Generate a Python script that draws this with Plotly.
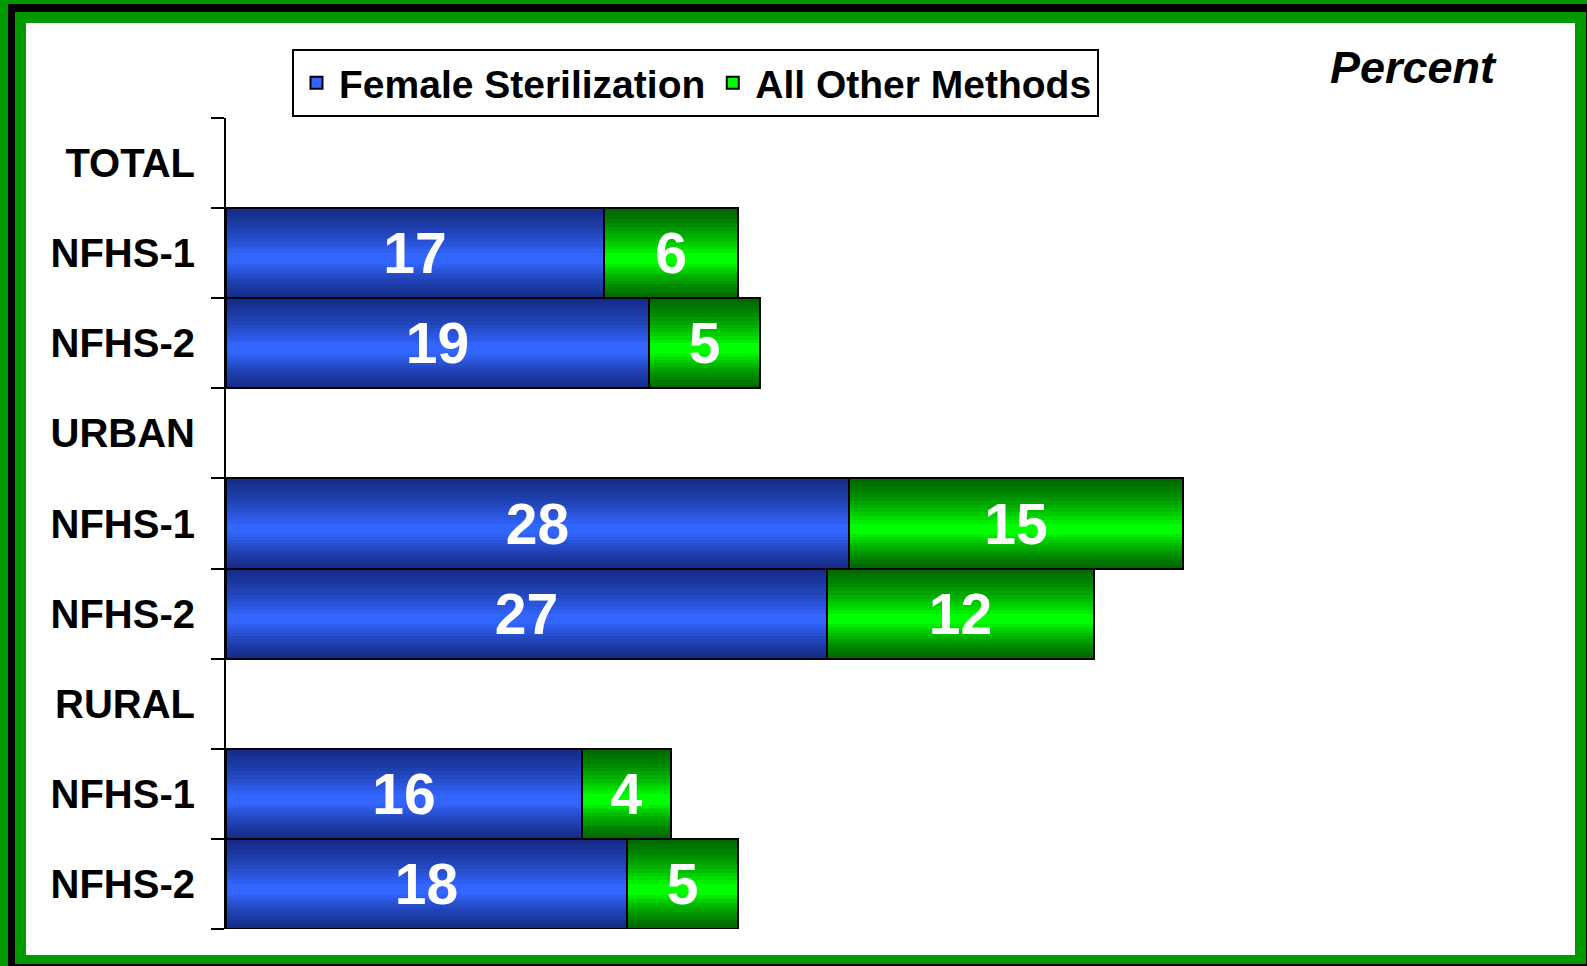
import plotly.graph_objects as go

# ---- data ----
rows = ["TOTAL", "TOTAL_1", "TOTAL_2", "URBAN", "URBAN_1", "URBAN_2", "RURAL", "RURAL_1", "RURAL_2"]
row_labels = ["TOTAL", "NFHS-1", "NFHS-2", "URBAN", "NFHS-1", "NFHS-2", "RURAL", "NFHS-1", "NFHS-2"]
female_sterilization = [None, 17, 19, None, 28, 27, None, 16, 18]
all_other_methods = [None, 6, 5, None, 15, 12, None, 4, 5]
series_names = ["Female Sterilization", "All Other Methods"]

# ---- layout geometry ----
W, H = 1587, 966
L, R, T, B = 226, 26, 118, 37
PW, PH = W - L - R, H - T - B


def px(x):
    return (x - L) / PW


def py(y):
    return (H - B - y) / PH


FONT = "Liberation Sans, Arial, sans-serif"

fig = go.Figure()

green_base = [f if f is not None else 0 for f in female_sterilization]

series = [
    dict(name=series_names[0], x=female_sterilization, base=[0] * len(rows),
         color="#3366FF", shade="rgba(0,0,30,0.06)"),
    dict(name=series_names[1], x=all_other_methods, base=green_base,
         color="#00FF00", shade="rgba(0,20,0,0.075)"),
]

N_STRIPES = 12
fractions = [(N_STRIPES - k) / N_STRIPES for k in range(N_STRIPES)]
TOP_SPAN, BOT_SPAN = 0.5, 0.38

for s in series:
    # base bar (bright centre colour, black outline)
    fig.add_trace(go.Bar(
        orientation="h", y=rows, x=s["x"], base=s["base"], name=s["name"],
        marker=dict(color=s["color"], line=dict(color="black", width=2)),
        width=1, hoverinfo="skip", showlegend=True,
    ))
    # shading stripes to imitate the vertical gradient
    for f in fractions:
        wt = TOP_SPAN * f
        wb = BOT_SPAN * f
        fig.add_trace(go.Bar(
            orientation="h", y=rows, x=s["x"], base=s["base"],
            marker=dict(color=s["shade"], line=dict(width=0)),
            width=wt, offset=-0.5, hoverinfo="skip", showlegend=False,
        ))
        fig.add_trace(go.Bar(
            orientation="h", y=rows, x=s["x"], base=s["base"],
            marker=dict(color=s["shade"], line=dict(width=0)),
            width=wb, offset=0.5 - wb, hoverinfo="skip", showlegend=False,
        ))

# value labels
for s in series:
    fig.add_trace(go.Bar(
        orientation="h", y=rows, x=s["x"], base=s["base"],
        marker=dict(color="rgba(0,0,0,0)", line=dict(width=0)),
        width=1, showlegend=False, hoverinfo="skip",
        text=[str(v) if v is not None else "" for v in s["x"]],
        textposition="inside", insidetextanchor="middle", constraintext="none",
        insidetextfont=dict(family=FONT, size=57, color="white", weight="bold"),
    ))

shapes = [
    dict(type="rect", xref="paper", yref="paper", x0=px(8), x1=px(1600), y0=py(4), y1=py(990),
         fillcolor="black", line=dict(width=0), layer="below"),
    dict(type="rect", xref="paper", yref="paper", x0=px(15), x1=px(1586), y0=py(12), y1=py(964),
         fillcolor="#009900", line=dict(width=0), layer="below"),
    dict(type="rect", xref="paper", yref="paper", x0=px(26), x1=px(1575), y0=py(23), y1=py(955),
         fillcolor="white", line=dict(width=0), layer="below"),
]

fig.update_layout(
    width=W, height=H,
    margin=dict(l=L, r=R, t=T, b=B, autoexpand=False),
    paper_bgcolor="#009900", plot_bgcolor="rgba(0,0,0,0)",
    barmode="overlay", bargap=0,
    shapes=shapes,
    font=dict(family=FONT, color="black"),
    xaxis=dict(visible=False, range=[0, 60], fixedrange=True),
    yaxis=dict(
        type="category", categoryorder="array", categoryarray=rows,
        range=[8.5, -0.5], tickmode="array", tickvals=rows, ticktext=row_labels,
        tickson="boundaries", ticks="outside", ticklen=13, tickwidth=2, tickcolor="black",
        showline=True, linecolor="black", linewidth=2, showgrid=False, zeroline=False,
        tickfont=dict(family=FONT, size=40, color="black", weight="bold"),
        ticklabelstandoff=21,
    ),
    legend=dict(
        orientation="h", x=px(292), y=py(49), xanchor="left", yanchor="top",
        bgcolor="white", bordercolor="black", borderwidth=2,
        font=dict(family=FONT, size=39, color="black", weight="bold"),
        itemwidth=35, traceorder="normal",
    ),
    annotations=[dict(
        text="Percent", xref="paper", yref="paper", x=px(1328), y=py(67),
        xanchor="left", yanchor="middle", showarrow=False,
        font=dict(family=FONT, size=45, color="black", weight="bold", style="italic"),
    )],
)

fig.write_html(
    "out.html",
    config={"displayModeBar": False},
    post_script="document.body.style.margin='0';document.body.style.padding='0';",
)
